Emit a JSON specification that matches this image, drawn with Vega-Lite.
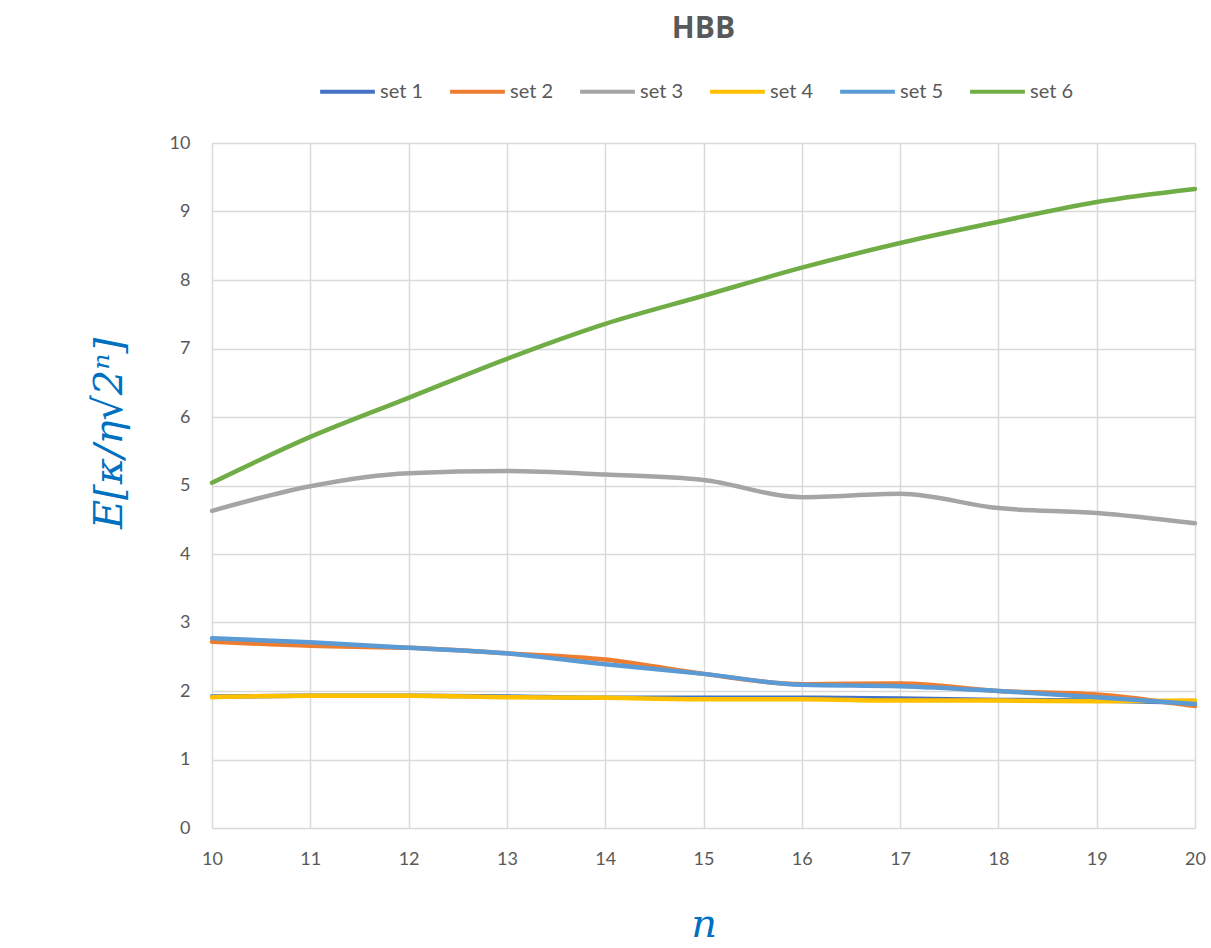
{
  "$schema": "https://vega.github.io/schema/vega-lite/v6.json",
  "autosize": {"type": "none"},
  "width": 983,
  "height": 685,
  "padding": {"left": 212, "top": 143, "right": 16, "bottom": 120},
  "background": "white",
  "title": {
    "text": "HBB",
    "font": "Open Sans",
    "fontSize": 30,
    "fontWeight": "bold",
    "color": "#595959",
    "anchor": "middle",
    "offset": 18
  },
  "config": {
    "view": {"stroke": null},
    "font": "Lato",
    "axis": {
      "gridColor": "#d9d9d9",
      "gridWidth": 1.5,
      "domain": false,
      "ticks": false,
      "labelColor": "#595959",
      "labelFont": "Lato",
      "labelFontSize": 18,
      "labelFlush": false
    }
  },
  "data": {
    "values": [
      {"n": 10, "series": "set 1", "value": 1.92},
      {"n": 11, "series": "set 1", "value": 1.93},
      {"n": 12, "series": "set 1", "value": 1.93},
      {"n": 13, "series": "set 1", "value": 1.92},
      {"n": 14, "series": "set 1", "value": 1.90},
      {"n": 15, "series": "set 1", "value": 1.90},
      {"n": 16, "series": "set 1", "value": 1.90},
      {"n": 17, "series": "set 1", "value": 1.89},
      {"n": 18, "series": "set 1", "value": 1.87},
      {"n": 19, "series": "set 1", "value": 1.86},
      {"n": 20, "series": "set 1", "value": 1.83},
      {"n": 10, "series": "set 2", "value": 2.72},
      {"n": 11, "series": "set 2", "value": 2.66},
      {"n": 12, "series": "set 2", "value": 2.63},
      {"n": 13, "series": "set 2", "value": 2.55},
      {"n": 14, "series": "set 2", "value": 2.46},
      {"n": 15, "series": "set 2", "value": 2.25},
      {"n": 16, "series": "set 2", "value": 2.10},
      {"n": 17, "series": "set 2", "value": 2.11},
      {"n": 18, "series": "set 2", "value": 2.00},
      {"n": 19, "series": "set 2", "value": 1.95},
      {"n": 20, "series": "set 2", "value": 1.78},
      {"n": 10, "series": "set 3", "value": 4.63},
      {"n": 11, "series": "set 3", "value": 4.99},
      {"n": 12, "series": "set 3", "value": 5.18},
      {"n": 13, "series": "set 3", "value": 5.21},
      {"n": 14, "series": "set 3", "value": 5.16},
      {"n": 15, "series": "set 3", "value": 5.08},
      {"n": 16, "series": "set 3", "value": 4.83},
      {"n": 17, "series": "set 3", "value": 4.88},
      {"n": 18, "series": "set 3", "value": 4.67},
      {"n": 19, "series": "set 3", "value": 4.60},
      {"n": 20, "series": "set 3", "value": 4.45},
      {"n": 10, "series": "set 4", "value": 1.91},
      {"n": 11, "series": "set 4", "value": 1.93},
      {"n": 12, "series": "set 4", "value": 1.93},
      {"n": 13, "series": "set 4", "value": 1.91},
      {"n": 14, "series": "set 4", "value": 1.90},
      {"n": 15, "series": "set 4", "value": 1.88},
      {"n": 16, "series": "set 4", "value": 1.88},
      {"n": 17, "series": "set 4", "value": 1.86},
      {"n": 18, "series": "set 4", "value": 1.86},
      {"n": 19, "series": "set 4", "value": 1.85},
      {"n": 20, "series": "set 4", "value": 1.86},
      {"n": 10, "series": "set 5", "value": 2.77},
      {"n": 11, "series": "set 5", "value": 2.71},
      {"n": 12, "series": "set 5", "value": 2.63},
      {"n": 13, "series": "set 5", "value": 2.55},
      {"n": 14, "series": "set 5", "value": 2.39},
      {"n": 15, "series": "set 5", "value": 2.25},
      {"n": 16, "series": "set 5", "value": 2.09},
      {"n": 17, "series": "set 5", "value": 2.07},
      {"n": 18, "series": "set 5", "value": 2.00},
      {"n": 19, "series": "set 5", "value": 1.91},
      {"n": 20, "series": "set 5", "value": 1.81},
      {"n": 10, "series": "set 6", "value": 5.04},
      {"n": 11, "series": "set 6", "value": 5.71},
      {"n": 12, "series": "set 6", "value": 6.28},
      {"n": 13, "series": "set 6", "value": 6.85},
      {"n": 14, "series": "set 6", "value": 7.36},
      {"n": 15, "series": "set 6", "value": 7.77},
      {"n": 16, "series": "set 6", "value": 8.18},
      {"n": 17, "series": "set 6", "value": 8.54},
      {"n": 18, "series": "set 6", "value": 8.85},
      {"n": 19, "series": "set 6", "value": 9.14},
      {"n": 20, "series": "set 6", "value": 9.33}
    ]
  },
  "mark": {"type": "line", "interpolate": "monotone", "strokeWidth": 4.5, "strokeCap": "round"},
  "encoding": {
    "x": {
      "field": "n",
      "type": "quantitative",
      "scale": {"domain": [10, 20], "nice": false},
      "axis": {
        "values": [10, 11, 12, 13, 14, 15, 16, 17, 18, 19, 20],
        "labelPadding": 22,
        "title": "n",
        "titleFont": "DejaVu Serif",
        "titleFontStyle": "italic",
        "titleFontWeight": "normal",
        "titleFontSize": 40,
        "titleColor": "#0070C0",
        "titlePadding": 36
      }
    },
    "y": {
      "field": "value",
      "type": "quantitative",
      "scale": {"domain": [0, 10], "nice": false},
      "axis": {
        "values": [0, 1, 2, 3, 4, 5, 6, 7, 8, 9, 10],
        "labelPadding": 22,
        "title": "E[κ/η√2ⁿ]",
        "titleFont": "DejaVu Serif",
        "titleFontStyle": "italic",
        "titleFontWeight": "normal",
        "titleFontSize": 40,
        "titleColor": "#0070C0",
        "titlePadding": 40,
        "titleY": 290
      }
    },
    "color": {
      "field": "series",
      "type": "nominal",
      "scale": {
        "domain": ["set 1", "set 2", "set 3", "set 4", "set 5", "set 6"],
        "range": ["#4472C4", "#ED7D31", "#A5A5A5", "#FFC000", "#5B9BD5", "#70AD47"]
      },
      "legend": {
        "title": null,
        "orient": "none",
        "direction": "horizontal",
        "legendX": 106,
        "legendY": -81,
        "symbolType": "stroke",
        "symbolSize": 3000,
        "symbolStrokeWidth": 4,
        "labelFontSize": 20,
        "labelColor": "#595959",
        "labelFont": "Lato",
        "labelOffset": 3,
        "columnPadding": 18
      }
    }
  }
}
